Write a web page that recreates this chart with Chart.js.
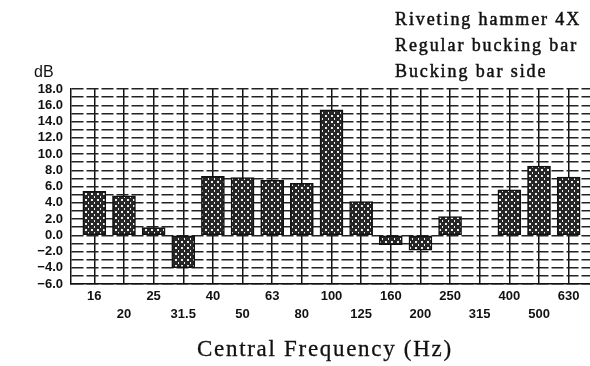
<!DOCTYPE html>
<html><head><meta charset="utf-8">
<script src="https://cdn.jsdelivr.net/npm/chart.js@4/dist/chart.umd.min.js"></script>
<style>html,body{margin:0;padding:0;background:#fff;overflow:hidden}#wrap{width:590px;height:366px;position:relative}</style>
</head><body><div id="wrap"><canvas id="c" width="590" height="366"></canvas></div>
<script>
const categories = ['16','20','25','31.5','40','50','63','80','100','125','160','200','250','315','400','500','630'];
const levels = [5.4, 4.85, 0.95, -4.0, 7.25, 7.1, 6.75, 6.4, 15.45, 4.15, -1.15, -1.85, 2.3, null, 5.6, 8.5, 7.15];
const yMin = -6, yMax = 18;
const legendLines = ['Riveting hammer 4X', 'Regular bucking bar', 'Bucking bar side'];
const yUnit = 'dB';
const xTitle = 'Central Frequency (Hz)';

const tile = document.createElement('canvas'); tile.width = 6; tile.height = 6;
const t = tile.getContext('2d');
t.fillStyle = '#262626'; t.fillRect(0, 0, 6, 6);
t.fillStyle = '#eeeeee'; t.fillRect(1, 1, 2, 2); t.fillRect(4, 4, 1, 2);
const pattern = t.createPattern(tile, 'repeat');

const textPlugin = {
  id: 'texts',
  afterDraw(chart) {
    const ctx = chart.ctx;
    ctx.save();
    ctx.fillStyle = '#111';
    ctx.strokeStyle = '#111';
    ctx.textBaseline = 'alphabetic';
    ctx.textAlign = 'left';
    ctx.font = '16px "Liberation Sans"';
    ctx.fillText(yUnit, 34, 77);
    ctx.font = '18px "Liberation Serif"';
    ctx.letterSpacing = '1.9px';
    ctx.lineWidth = 0.5;
    legendLines.forEach((s, i) => { ctx.fillText(s, 395, 25 + 26 * i); ctx.strokeText(s, 395, 25 + 26 * i); });
    ctx.font = '23px "Liberation Serif"';
    ctx.letterSpacing = '1.7px';
    ctx.lineWidth = 0.3;
    ctx.fillText(xTitle, 197, 356);
    ctx.strokeText(xTitle, 197, 356);
    ctx.restore();
  }
};

new Chart(document.getElementById('c'), {
  type: 'bar',
  data: {
    datasets: [{
      data: categories.map((c, i) => ({x: i, y: levels[i]})),
      backgroundColor: pattern,
      borderColor: '#111',
      borderWidth: 1.5,
      borderSkipped: false,
      barThickness: 23
    }]
  },
  options: {
    responsive: false,
    animation: false,
    devicePixelRatio: 1,
    layout: {padding: {top: 89, left: 0, right: 0, bottom: 0}},
    plugins: {legend: {display: false}, tooltip: {enabled: false}},
    scales: {
      x: {
        type: 'linear',
        offset: false,
        min: -0.787, max: 16.72,
        afterBuildTicks: s => { s.ticks = categories.map((c, i) => ({value: i})); },
        afterFit: s => { s.height = 82; },
        grid: {color: '#111', lineWidth: 1.5, drawTicks: false, offset: false},
        border: {display: true, color: '#111', width: 1.5},
        ticks: {
          autoSkip: false, maxRotation: 0, minRotation: 0, padding: 3,
          color: '#111',
          font: {family: '"Liberation Sans"', size: 13, weight: 'bold', lineHeight: 1.4},
          callback: (v) => {
            const i = Math.round(v);
            const lab = categories[i];
            return i % 2 === 0 ? [lab, ''] : ['', lab];
          }
        }
      },
      y: {
        min: yMin, max: yMax,
        afterFit: s => { s.width = 71; },
        grid: {color: '#222', lineWidth: 1.4, drawTicks: false},
        border: {display: true, color: '#111', width: 1.5, dash: [12, 3]},
        ticks: {
          stepSize: 1, autoSkip: false, padding: 8, color: '#111',
          font: {family: '"Liberation Sans"', size: 13, weight: 'bold'},
          callback: v => (Math.round(v) % 2 === 0 ? (v < 0 ? '\u2212' + Math.abs(v).toFixed(1) : v.toFixed(1)) : '')
        }
      }
    }
  },
  plugins: [textPlugin]
});
</script></body></html>
